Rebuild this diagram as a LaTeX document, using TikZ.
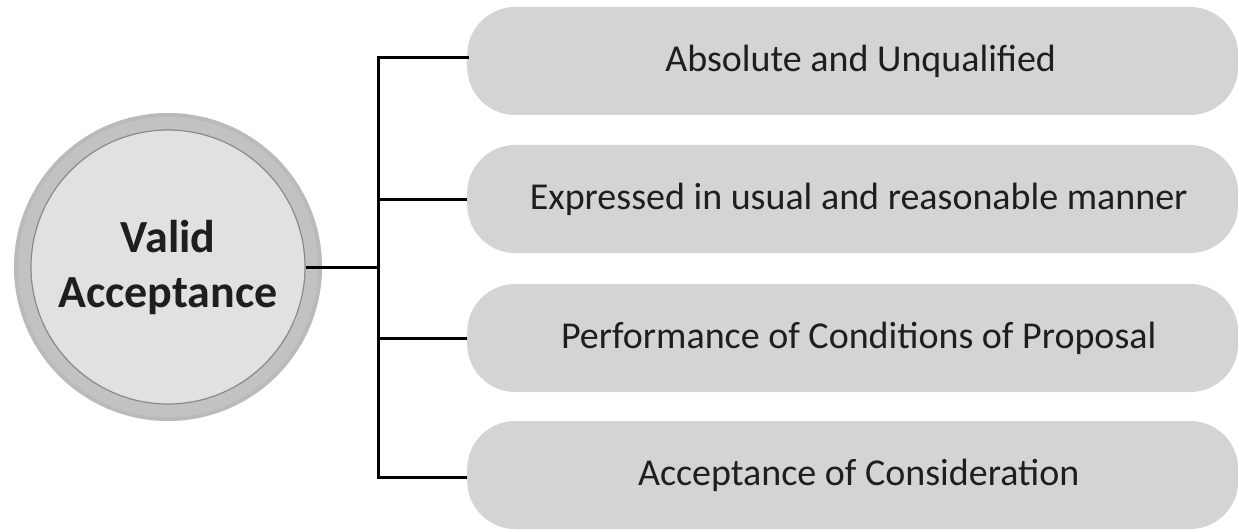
\documentclass[tikz,border=0pt]{standalone}
\usepackage{fontspec}
\setmainfont{Carlito}
\definecolor{boxgray}{HTML}{D4D4D4}
\definecolor{ringgray}{HTML}{C2C2C2}
\definecolor{innergray}{HTML}{E1E1E1}
\definecolor{edgegray}{HTML}{8A8A8A}
\definecolor{txt}{HTML}{1E1E1E}
\begin{document}
\begin{tikzpicture}[x=1pt,y=-1pt,
  itembox/.style={fill=boxgray, draw=none, rounded corners=48pt, minimum width=771pt, minimum height=108pt, inner sep=0pt, font=\fontsize{38}{44}\selectfont, text=txt, anchor=west},
  conn/.style={line width=3pt, black}]
\useasboundingbox (0,0) rectangle (1239,532);
% central circle
\fill[ringgray] (168,267) circle (154);
\fill[ringgray!85!black, opacity=0.25] (168,267) circle (154);
\fill[ringgray] (168,267) circle (150);
\node[circle, fill=innergray, draw=edgegray, line width=1.2pt, minimum size=274pt, inner sep=0pt,
  font=\bfseries\fontsize{46}{55}\selectfont, text=txt, align=center] (c) at (168,267) {Valid\\Acceptance};
% boxes
\node[itembox] (b1) at (467,61) {\hspace*{16pt}Absolute and Unqualified};
\node[itembox] (b2) at (467,199) {\hspace*{12pt}Expressed in usual and reasonable manner};
\node[itembox] (b3) at (467,338) {\hspace*{12pt}Performance of Conditions of Proposal};
\node[itembox] (b4) at (467,475) {\hspace*{12pt}Acceptance of Consideration};
% connectors
\coordinate (t) at (378,267);
\draw[conn] (c.east) -- (t);
\draw[conn, line cap=rect] (b1.west |- 0,58) -| (t) ;
\draw[conn] (t) |- (b4.west |- 0,477);
\draw[conn] (t |- b2.west) -- (b2.west);
\draw[conn] (t |- b3.west) -- (b3.west);
\end{tikzpicture}
\end{document}
